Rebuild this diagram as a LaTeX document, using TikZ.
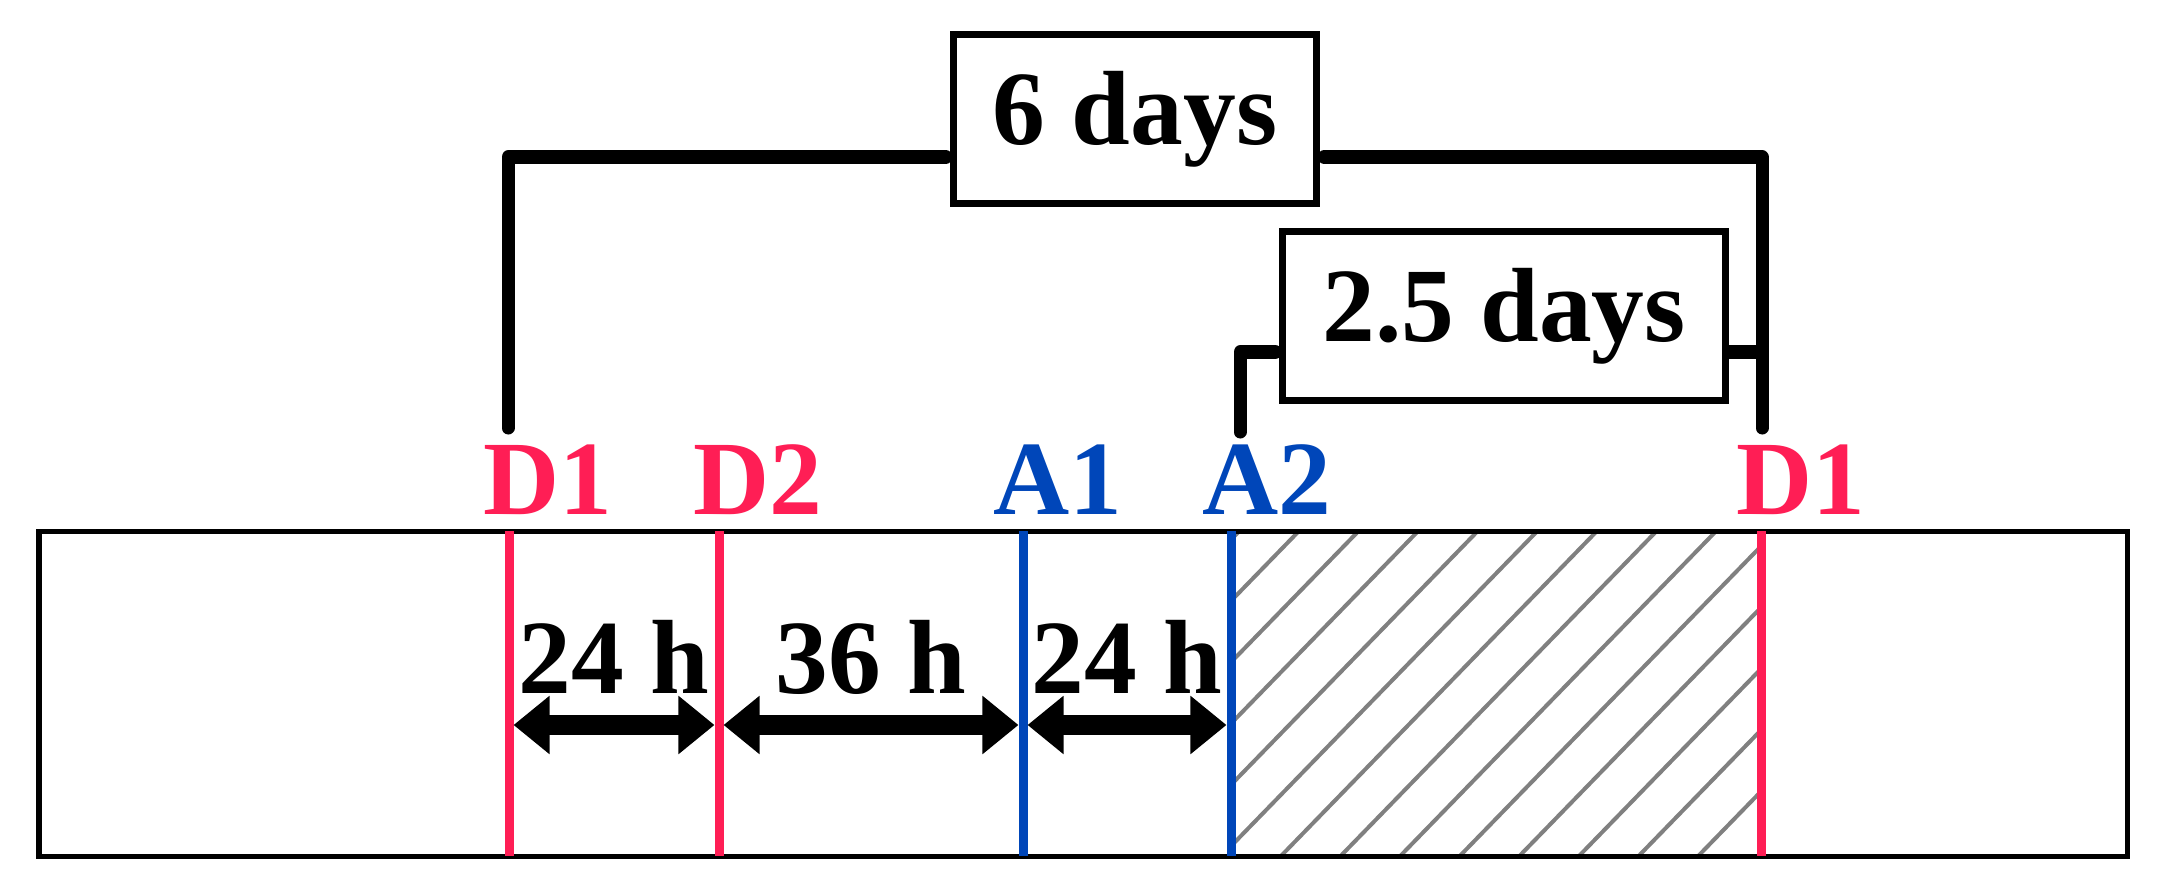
\documentclass[tikz,border=0pt]{standalone}
\usepackage{fontspec}
\setmainfont{Liberation Serif}
\usepackage{tikz}
\usetikzlibrary{arrows.meta}
\definecolor{dosered}{RGB}{255,30,85}
\definecolor{abxblue}{RGB}{0,70,185}
\definecolor{hatchgray}{RGB}{128,128,128}

\begin{document}
\begin{tikzpicture}[x=0.01cm, y=-0.01cm,
    lbl/.style = {font=\fontsize{30}{36}\selectfont\bfseries, inner sep=0pt, anchor=base},
    dose/.style = {draw=dosered, line width=0.09cm},
    abx/.style = {draw=abxblue, line width=0.09cm},
    span/.style = {line width=0.2cm, shorten <=0.045cm, shorten >=0.045cm,
        {Triangle[length=0.36cm,width=0.56cm]}-{Triangle[length=0.36cm,width=0.56cm]}},
    brace/.style = {line width=0.13cm, line cap=round, line join=round},
    dur/.style = {draw, line width=0.07cm, inner sep=0pt, font=\fontsize{30}{36}\selectfont\bfseries}]
    \useasboundingbox (0,0) rectangle (2166,891);
    % hatched part between A2 and D1
    \begin{scope}
        \clip (1231,531) rectangle (1761,856);
        \foreach \k in {-2,...,13}
            \draw[hatchgray, line width=0.04cm] (1299+59.6*\k-316,856) -- (1299+59.6*\k,531);
    \end{scope}
    \draw[line width=0.05cm] (39,531) rectangle (2127,856);
    % marker lines
    \coordinate (d1t) at (509,531);  \coordinate (d1b) at (509,856);
    \coordinate (d2t) at (719,531);  \coordinate (d2b) at (719,856);
    \coordinate (a1t) at (1023,531); \coordinate (a1b) at (1023,856);
    \coordinate (a2t) at (1231,531); \coordinate (a2b) at (1231,856);
    \coordinate (d3t) at (1761,531); \coordinate (d3b) at (1761,856);
    \draw[dose] (d1t) -- (d1b);
    \draw[dose] (d2t) -- (d2b);
    \draw[abx] (a1t) -- (a1b);
    \draw[abx] (a2t) -- (a2b);
    \draw[dose] (d3t) -- (d3b);
    \node[lbl, dosered] (d1) at (548,514) {D1};
    \node[lbl, dosered] (d2) at (758,514) {D2};
    \node[lbl, abxblue] (a1) at (1058,514) {A1};
    \node[lbl, abxblue] (a2) at (1267,514) {A2};
    \node[lbl, dosered] (d3) at (1801,514) {D1};
    % intervals
    \coordinate (ar) at (0,725);
    \draw[span] (d1t |- ar) -- (d2t |- ar);
    \draw[span] (d2t |- ar) -- (a1t |- ar);
    \draw[span] (a1t |- ar) -- (a2t |- ar);
    \node[lbl] (h1) at (614,693) {24 h};
    \node[lbl] (h2) at (871,693) {36 h};
    \node[lbl] (h3) at (1127,693) {24 h};
    % durations
    \node[dur, minimum width=3.63cm, minimum height=1.68cm] (six) at (1135,119) {6 days};
    \node[dur, minimum width=4.42cm, minimum height=1.68cm] (half) at (1504,316) {2.5 days};
    \coordinate (s6) at (508,428);  \coordinate (e6) at (1762,428);
    \coordinate (k6) at (0,157);
    \coordinate (s25) at (1240,432); \coordinate (k25) at (0,352);
    \draw[brace, shorten >=0.04cm] (s6) |- (six.west |- k6);
    \draw[brace, shorten >=0.04cm] (e6) |- (six.east |- k6);
    \draw[brace, shorten >=0.04cm] (s25) |- (half.west |- k25);
    \draw[brace] (half.east |- k25) -- (e6 |- k25);
\end{tikzpicture}
\end{document}
